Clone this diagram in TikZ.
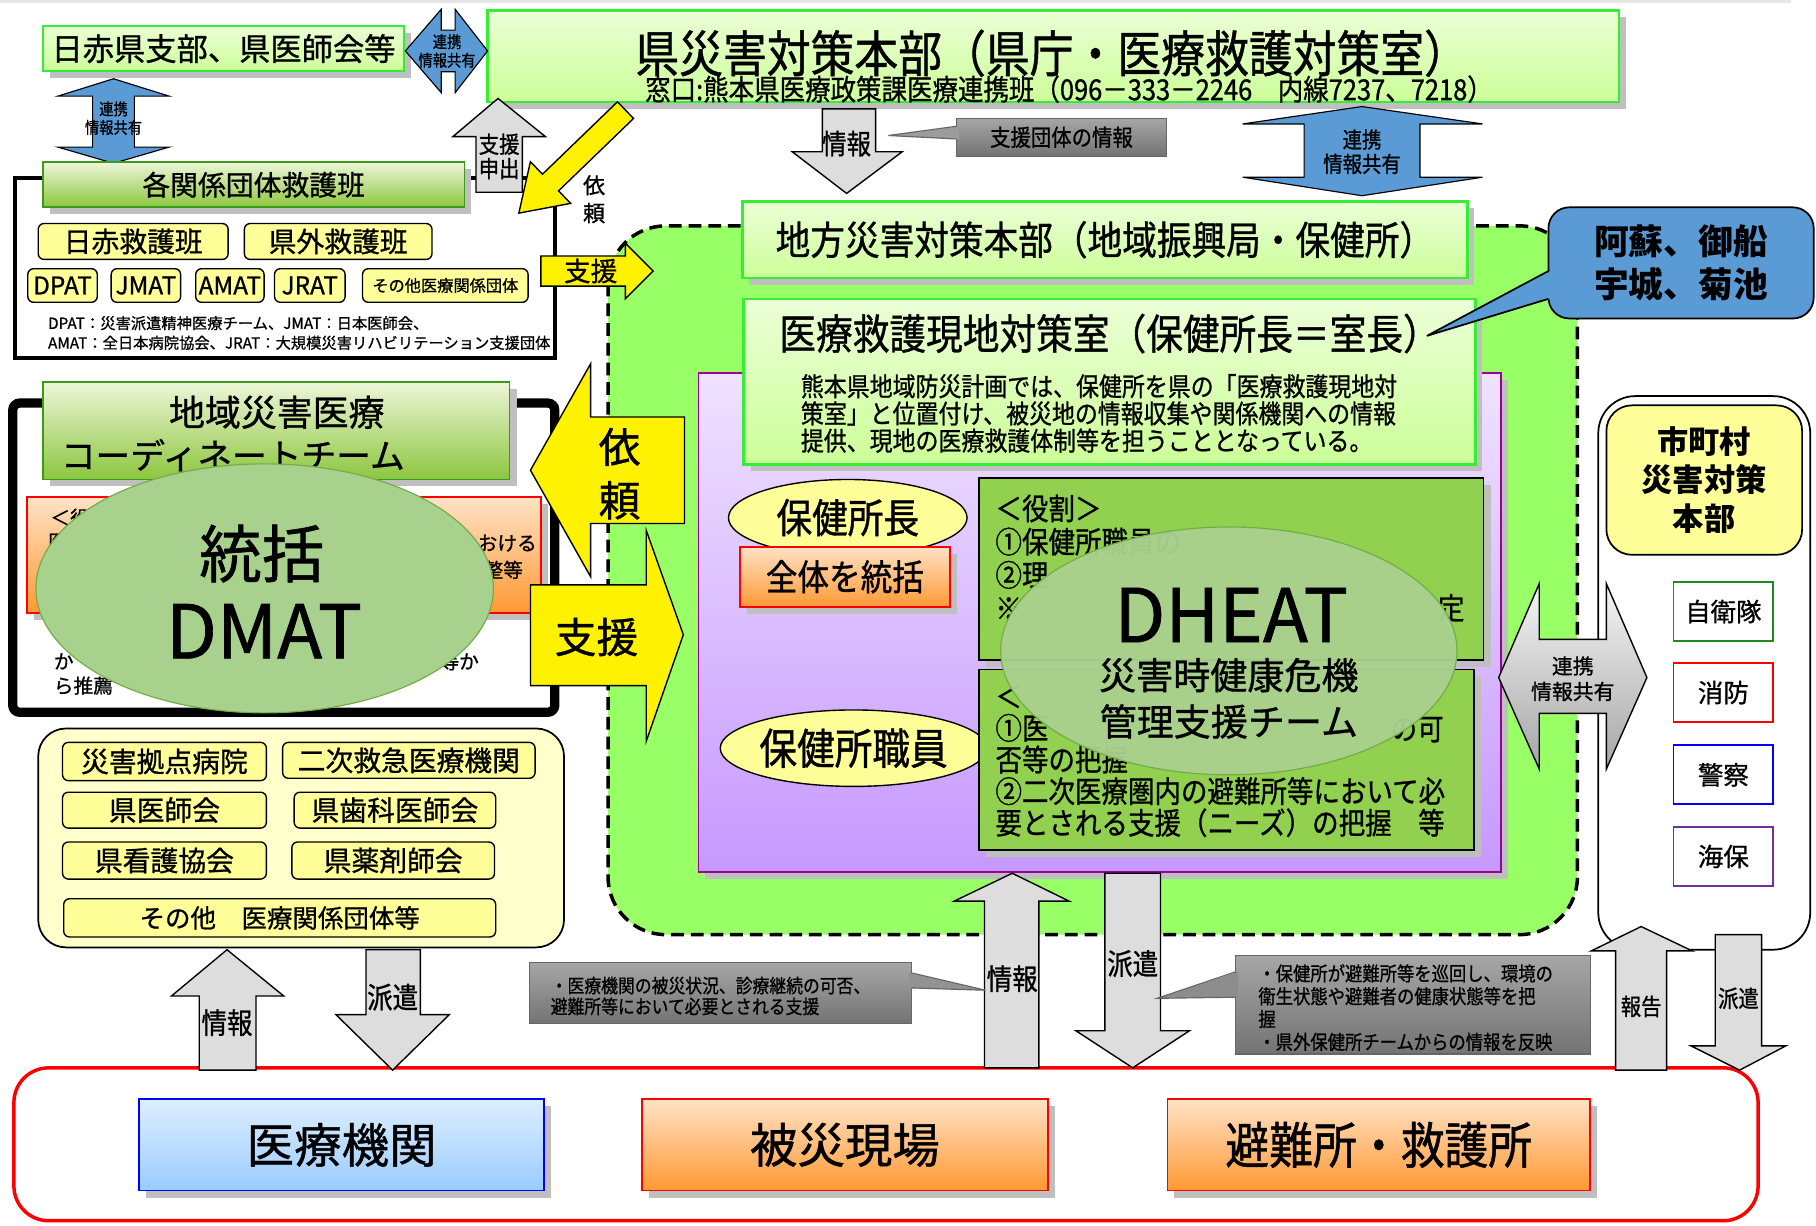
\documentclass[tikz,border=0pt]{standalone}
\usepackage{fontspec}
\setmainfont{Noto Sans CJK JP}[UprightFeatures={FakeBold=0.9}]
\newfontfamily\narrow{Noto Sans CJK JP}[FakeStretch=0.88, UprightFeatures={FakeBold=0.9}]
\usetikzlibrary{shapes.geometric,shadows}

\definecolor{lgtop}{HTML}{EBFFD6}
\definecolor{lgbot}{HTML}{CCFF99}
\definecolor{lgline}{HTML}{33EE33}
\definecolor{hdtop}{HTML}{EEF6D8}
\definecolor{hdbot}{HTML}{8CC63F}
\definecolor{hdline}{HTML}{3A9A1A}
\definecolor{regiongreen}{HTML}{99FF66}
\definecolor{purtop}{HTML}{F0E2FF}
\definecolor{purbot}{HTML}{C698FF}
\definecolor{purline}{HTML}{990099}
\definecolor{rolegreen}{HTML}{92D050}
\definecolor{paleyellow}{HTML}{FFFF99}
\definecolor{creamyellow}{HTML}{FFFFCC}
\definecolor{ortop}{HTML}{FFE2C6}
\definecolor{orbot}{HTML}{FF9933}
\definecolor{arrowblue}{HTML}{5B9BD5}
\definecolor{arrowgray}{HTML}{DDDDDD}
\definecolor{calltop}{HTML}{A6A6A6}
\definecolor{callbot}{HTML}{737373}
\definecolor{bltop}{HTML}{DDEEFF}
\definecolor{blbot}{HTML}{99CCFF}
\definecolor{ellgreen}{HTML}{A9D18E}
\definecolor{ellline}{HTML}{70AD47}
\definecolor{shadowgray}{HTML}{BFBFBF}
\definecolor{jieitai}{HTML}{1E8B1E}
\definecolor{kaiho}{HTML}{7030A0}

\newcommand\fs[1]{\fontsize{#1}{#1}\selectfont}
\newcommand\fsl[2]{\fontsize{#1}{#2}\selectfont}

\tikzset{
  shadowed/.style={drop shadow={shadow xshift=6pt, shadow yshift=-6pt, fill=shadowgray, opacity=1}},
  lgbox/.style={draw=lgline, line width=2pt, top color=lgtop, bottom color=lgbot, shadowed, inner sep=0pt},
  hdbox/.style={draw=hdline, line width=1.5pt, top color=hdtop, bottom color=hdbot, shadowed, inner sep=0pt},
  orbox/.style={draw=red, line width=1.5pt, top color=ortop, bottom color=orbot, shadowed, inner sep=0pt},
  ybox/.style={draw=black, line width=1.2pt, fill=paleyellow, rounded corners=5pt, inner sep=0pt},
  yell/.style={ellipse, draw=black, line width=1.2pt, fill=paleyellow, inner sep=0pt},
  rolebox/.style={draw=black, line width=1.5pt, fill=rolegreen, shadowed, inner sep=0pt},
  tagbox/.style={draw, line width=1.5pt, fill=white, minimum width=86pt, minimum height=51pt, font=\fs{22}},
  bottombox/.style={line width=1.5pt, shadowed, minimum width=350pt, minimum height=79pt, inner sep=0pt},
  garrow/.style={draw=black, line width=1.2pt, fill=arrowgray},
  barrow/.style={draw=black, line width=1pt, fill=arrowblue},
  yarrow/.style={draw=black, line width=1.2pt, fill=yellow},
  callout/.style={draw=black!60, line width=1pt, top color=calltop, bottom color=callbot, inner sep=0pt},
  bigell/.style={ellipse, draw=ellline, line width=1pt, fill=ellgreen, inner sep=0pt},
}

\begin{document}
\begin{tikzpicture}[x=1pt,y=-1pt]
\useasboundingbox (0,0) rectangle (1568,1058);
\fill[white] (0,0) rectangle (1568,1058);
\fill[black!10] (0,0) rectangle (1546,3);

% 地方の枠
\draw[fill=regiongreen, line width=3pt, dash pattern=on 11pt off 6pt, rounded corners=50pt] (525,195) rectangle (1362,807);
\node[draw=purline, line width=1.5pt, top color=purtop, bottom color=purbot, shadowed, minimum width=693pt, minimum height=431pt] (genchi) at (949.5,537.5) {};

\node[lgbox, minimum width=626pt, minimum height=66pt, font=\narrow\fs{34}] (chiho) at (954,207) {地方災害対策本部（地域振興局・保健所）};
\node[lgbox, minimum width=632pt, minimum height=143pt] (taisaku) at (958,329.5) {};
\node[font=\narrow\fs{36}] (taisakutitle) at (958,288) {医療救護現地対策室（保健所長＝室長）};
\node[font=\narrow\fsl{22.5}{23.5}, align=left, anchor=west] (taisakubody) at (688,357) {熊本県地域防災計画では、保健所を県の「医療救護現地対\\策室」と位置付け、被災地の情報収集や関係機関への情報\\提供、現地の医療救護体制等を担うこととなっている。};

% 保健所
\node[yell, minimum width=206pt, minimum height=66pt, font=\narrow\fs{35}] (chou) at (732,447) {保健所長};
\node[orbox, minimum width=181pt, minimum height=52pt, font=\narrow\fs{31}] (tokatsu) at (729.5,498) {全体を統括};
\node[yell, minimum width=216pt, minimum height=66pt, font=\narrow\fs{37}] (shokuin) at (737,646) {保健所職員};

\node[rolebox, minimum width=436pt, minimum height=157pt] (role1) at (1063,491.5) {};
\node[rolebox, minimum width=428pt, minimum height=156pt] (role2) at (1059,656) {};
\node[font=\narrow\fsl{26}{28.7}, align=left, anchor=west] (role1txt) at (856,481) {＜役割＞\\①保健所職員の\\②理\\※};
\node[font=\narrow\fs{26}, anchor=east] (role1frag) at (1268,525) {定};
\node[font=\narrow\fsl{26}{27.3}, align=left, anchor=west] (role2txt) at (856,657) {＜\\①医\\否等の把握\\②二次医療圏内の避難所等において必\\要とされる支援（ニーズ）の把握　等};
\node[font=\narrow\fs{26}, anchor=east] (role2frag) at (1250,630) {の可};

\node[bigell, fill opacity=0.96, minimum width=394pt, minimum height=214pt] (dheat) at (1061,562) {};
\node[font=\fs{64}] (dheatname) at (1063,531) {DHEAT};
\node[font=\fsl{32}{40}, align=center] (dheatsub) at (1061,603) {災害時健康危機\\管理支援チーム};

% 県
\node[lgbox, minimum width=312pt, minimum height=39pt, font=\fs{27}] (nisseki) at (193,42) {日赤県支部、県医師会等};
\node[lgbox, minimum width=977pt, minimum height=79pt] (ken) at (909.5,48.5) {};
\node[font=\narrow\fs{43}] (kentitle) at (908,46) {県災害対策本部（県庁・医療救護対策室）};
\node[font=\narrow\fs{25}] (kensub) at (923,77) {窓口:熊本県医療政策課医療連携班（096－333－2246　内線7237、7218）};

\draw[barrow] (350,44) -- (381,8) -- (381,26) -- (393,26) -- (393,8) -- (421,44) -- (393,80) -- (393,62) -- (381,62) -- (381,80) -- cycle;
\node[font=\narrow\fsl{14}{16}, align=center] (renkei1) at (386,44) {連携\\情報共有};
\draw[barrow] (98,68) -- (146,83) -- (116,83) -- (116,127) -- (146,127) -- (98,141) -- (50,127) -- (80,127) -- (80,83) -- (50,83) -- cycle;
\node[font=\narrow\fsl{14}{16}, align=center] (renkei2) at (98,102) {連携\\情報共有};
\draw[barrow] (1176,92) -- (1280,107) -- (1226,107) -- (1226,153) -- (1280,153) -- (1176,169) -- (1073,153) -- (1126,153) -- (1126,107) -- (1073,107) -- cycle;
\node[font=\narrow\fsl{19}{21}, align=center] (renkei3) at (1176,131) {連携\\情報共有};

\draw[garrow] (710,94) -- (756,94) -- (756,131) -- (779,131) -- (731,167) -- (684,131) -- (710,131) -- cycle;
\node[font=\narrow\fs{24}] (jouhou1) at (731,124) {情報};
\node[callout, minimum width=181pt, minimum height=33pt, font=\narrow\fs{20}] (dantaiinfo) at (916.5,118.5) {支援団体の情報};
\fill[calltop!80!callbot] (828,109) -- (767,117) -- (828,120) -- cycle;
\draw[black!60, line width=1pt] (826,109) -- (767,117) -- (826,120);

% 各関係団体救護班
\draw[line width=3.5pt, fill=white] (13,154) rectangle (479,309);
\node[hdbox, minimum width=364pt, minimum height=39pt, font=\fs{24}] (kakudantai) at (219,159.5) {各関係団体救護班};
\node[ybox, minimum width=164pt, minimum height=31pt, font=\fs{24}] (nissekihan) at (115,208.5) {日赤救護班};
\node[ybox, minimum width=162pt, minimum height=31pt, font=\fs{24}] (kengaihan) at (292,208.5) {県外救護班};
\node[ybox, minimum width=60pt, minimum height=29pt, font=\fs{21}] (dpat) at (54,246.5) {DPAT};
\node[ybox, minimum width=60pt, minimum height=29pt, font=\fs{21}] (jmat) at (126,246.5) {JMAT};
\node[ybox, minimum width=59pt, minimum height=29pt, font=\fs{21}] (amat) at (198.5,246.5) {AMAT};
\node[ybox, minimum width=61pt, minimum height=29pt, font=\fs{21}] (jrat) at (267.5,246.5) {JRAT};
\node[ybox, minimum width=143pt, minimum height=29pt, font=\fs{14}] (sonotadan) at (384.5,246.5) {その他医療関係団体};
\node[font=\fsl{13.2}{17}, align=left, anchor=west] (chushaku) at (38,287.5) {DPAT：災害派遣精神医療チーム、JMAT：日本医師会、\\AMAT：全日本病院協会、JRAT：大規模災害リハビリテーション支援団体};

\draw[garrow] (430,85) -- (471,118) -- (451,118) -- (451,166) -- (411,166) -- (411,118) -- (391,118) -- cycle;
\node[font=\narrow\fsl{20}{21}, align=center] (moushide) at (431,135) {支援\\申出};

\begin{scope}[shift={(448,184)}, rotate=224]
  \draw[yarrow] (0,0) -- (-38,-25) -- (-38,-10) -- (-128,-10) -- (-128,10) -- (-38,10) -- (-38,25) -- cycle;
\end{scope}
\node[font=\fsl{19}{24}, align=center] (irai1) at (513,172) {依\\頼};

\draw[yarrow] (467,221) -- (540,221) -- (540,210) -- (564,234) -- (540,258) -- (540,247) -- (467,247) -- cycle;
\node[font=\fs{23}] (shien1) at (510,234) {支援};

% 地域災害医療コーディネートチーム
\draw[line width=8pt, fill=white, rounded corners=6pt] (11,348) rectangle (479,615);
\node[hdbox, minimum width=403pt, minimum height=84pt] (dmhead) at (238.5,372) {};
\node[font=\fs{31}] (dmhead1) at (239,356) {地域災害医療};
\node[font=\fs{30}] (dmhead2) at (201,393) {コーディネートチーム};
\node[orbox, minimum width=444pt, minimum height=100pt] (dmrole) at (245,479) {};
\node[font=\fs{17}, anchor=west] (dmfrag1) at (40,447) {＜役};
\node[font=\fs{17}, anchor=west] (dmfrag2) at (38,468) {医};
\node[font=\fs{17}, anchor=east] (dmfrag3) at (467,469) {おける};
\node[font=\fs{17}, anchor=east] (dmfrag4) at (455,492) {整等};
\node[font=\fs{17}, anchor=west] (dmfrag5) at (43,571) {か};
\node[font=\fs{17}, anchor=west] (dmfrag6) at (43,592) {ら推薦};
\node[font=\fs{17}, anchor=east] (dmfrag7) at (417,571) {等か};
\node[bigell, minimum width=395pt, minimum height=215pt] (dmat) at (228.5,508) {};
\node[font=\fs{54}] (dmat1) at (226,478) {統括};
\node[font=\fs{64}] (dmat2) at (228,545) {DMAT};

\draw[yarrow] (458,406) -- (510,314) -- (510,360) -- (591,360) -- (591,452) -- (510,452) -- (510,498) -- cycle;
\node[font=\fsl{36}{46}, align=center] (irai2) at (535,409) {依\\頼};
\draw[yarrow] (458,505) -- (558,505) -- (558,458) -- (590,548) -- (558,640) -- (558,592) -- (458,592) -- cycle;
\node[font=\fs{36}] (shien2) at (515,550) {支援};

% 医療関係団体
\draw[fill=creamyellow, line width=1.5pt, rounded corners=24pt] (33,629) rectangle (487,818);
\node[ybox, minimum width=176pt, minimum height=33pt, font=\fs{24}] (kyoten) at (142,657.5) {災害拠点病院};
\node[ybox, minimum width=218pt, minimum height=31pt, font=\fs{24}] (niji) at (353,656.5) {二次救急医療機関};
\node[ybox, minimum width=176pt, minimum height=31pt, font=\fs{24}] (ishikai) at (142,699.5) {県医師会};
\node[ybox, minimum width=174pt, minimum height=31pt, font=\fs{24}] (shika) at (341,699.5) {県歯科医師会};
\node[ybox, minimum width=176pt, minimum height=32pt, font=\fs{24}] (kango) at (142,743) {県看護協会};
\node[ybox, minimum width=175pt, minimum height=32pt, font=\fs{24}] (yakuzai) at (339.5,743) {県薬剤師会};
\node[ybox, minimum width=373pt, minimum height=33pt, font=\fs{22}] (sonota) at (241.5,792.5) {その他　医療関係団体等};

% 現場
\draw[red, line width=3pt, fill=white, rounded corners=30pt] (12,922) rectangle (1518,1054);
\node[bottombox, draw=blue, top color=bltop, bottom color=blbot, font=\fs{41}] (iryokikan) at (295,988.5) {医療機関};
\node[bottombox, draw=red, top color=ortop, bottom color=orbot, minimum width=351pt, font=\fs{41}] (hisai) at (729.5,988.5) {被災現場};
\node[bottombox, draw=red, top color=ortop, bottom color=orbot, minimum width=365pt, font=\narrow\fs{43}] (hinan) at (1190.5,988.5) {避難所・救護所};

\draw[garrow] (196,820) -- (245,860) -- (221,860) -- (221,924) -- (172,924) -- (172,860) -- (148,860) -- cycle;
\node[font=\narrow\fs{25}] (jouhou2) at (196,883) {情報};
\draw[garrow] (316,820) -- (363,820) -- (363,876) -- (388,876) -- (339,924) -- (290,876) -- (316,876) -- cycle;
\node[font=\narrow\fs{25}] (haken2) at (339,861) {派遣};

\draw[garrow] (874,754) -- (923,778) -- (897,778) -- (897,922) -- (850,922) -- (850,778) -- (824,778) -- cycle;
\node[font=\narrow\fs{25}] (jouhou3) at (874,845) {情報};
\draw[garrow] (954,754) -- (1002,754) -- (1002,890) -- (1027,890) -- (978,922) -- (929,890) -- (954,890) -- cycle;
\node[font=\narrow\fs{25}] (haken3) at (978,832) {派遣};

\node[callout, minimum width=330pt, minimum height=53pt] (callhosp) at (622,857.5) {};
\node[font=\narrow\fsl{16.5}{18}, align=left, anchor=west] (callhosptxt) at (472,860) {・医療機関の被災状況、診療継続の可否、\\避難所等において必要とされる支援};
\fill[calltop!60!callbot] (785,840) -- (851,855) -- (785,853) -- cycle;
\draw[black!60, line width=1pt] (787,840) -- (851,855) -- (787,853);

\node[callout, minimum width=306pt, minimum height=85pt] (callshelter) at (1220,867.5) {};
\node[font=\narrow\fsl{17}{19.7}, align=left, anchor=west] (callsheltertxt) at (1083,870) {・保健所が避難所等を巡回し、環境の\\衛生状態や避難者の健康状態等を把\\握\\・県外保健所チームからの情報を反映};
\fill[calltop!50!callbot] (1069,839) -- (999,862) -- (1069,861) -- cycle;
\draw[black!60, line width=1pt] (1067,839) -- (999,862) -- (1067,861);

% 市町村
\draw[line width=1.5pt, fill=white, rounded corners=32pt] (1380,342) rectangle (1563,820);
\node[draw, line width=1.5pt, fill=paleyellow, rounded corners=22pt, minimum width=169pt, minimum height=129pt, align=center, font=\bfseries\fsl{27}{33}] (shicho) at (1471.5,414.5) {市町村\\災害対策\\本部};
\node[tagbox, draw=jieitai] (jieitai) at (1488,528) {自衛隊};
\node[tagbox, draw=red] (shobo) at (1488,598) {消防};
\node[tagbox, draw=blue] (keisatsu) at (1488,669) {警察};
\node[tagbox, draw=kaiho] (kaiho) at (1488,739.5) {海保};

\draw[draw=black, line width=1.2pt, top color=black!4, bottom color=black!35] (1294,585) -- (1329,504) -- (1329,552) -- (1387,552) -- (1387,504) -- (1422,585) -- (1387,664) -- (1387,616) -- (1329,616) -- (1329,664) -- cycle;
\node[font=\fsl{18}{22}, align=center] (renkei4) at (1358,586) {連携\\情報共有};

\draw[garrow] (1417,800) -- (1461,821) -- (1439,821) -- (1439,924) -- (1395,924) -- (1395,821) -- (1374,821) -- cycle;
\node[font=\narrow\fs{20}] (houkoku) at (1417,869) {報告};
\draw[garrow] (1481,807) -- (1521,807) -- (1521,903) -- (1542,903) -- (1502,924) -- (1460,903) -- (1481,903) -- cycle;
\node[font=\narrow\fs{20}] (haken4) at (1501,862) {派遣};

% 地域
\node[draw, line width=1.5pt, fill=arrowblue, rounded corners=18pt, minimum width=229pt, minimum height=96pt, align=center, font=\bfseries\fsl{30}{37}] (aso) at (1451.5,227) {阿蘇、御船\\宇城、菊池};
\fill[arrowblue] (1339,234) -- (1232,290) -- (1339,258) -- cycle;
\draw[line width=1.5pt] (1337,234) -- (1232,290) -- (1337,258);
\end{tikzpicture}
\end{document}
